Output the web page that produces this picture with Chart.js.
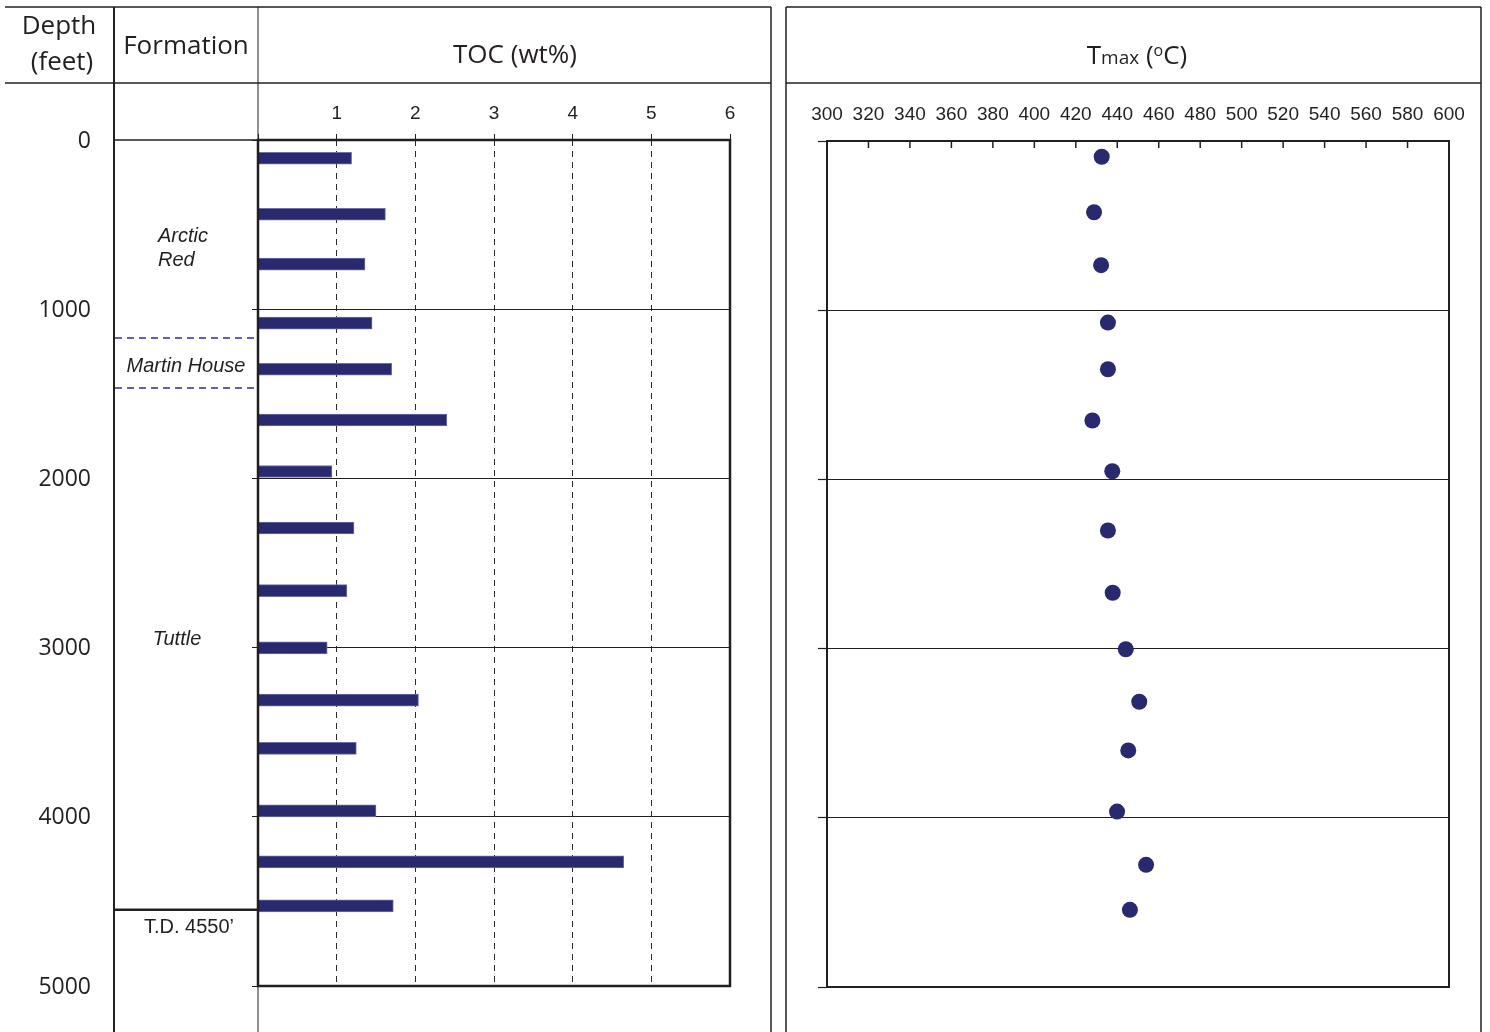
<!DOCTYPE html>
<html>
<head>
<meta charset="utf-8">
<title>TOC and Tmax versus depth</title>
<script src="https://cdn.jsdelivr.net/npm/chart.js@4.4.1/dist/chart.umd.min.js"></script>
<style>
  html, body { margin: 0; padding: 0; background: #ffffff; }
  #wrap { position: relative; width: 1490px; height: 1032px; overflow: hidden; background: #ffffff; }
  canvas { position: absolute; top: 0; }
  #tocCanvas { left: 0; }
  #tmaxCanvas { left: 780px; }
</style>
</head>
<body>
<div id="wrap">
  <canvas id="tocCanvas" width="780" height="1032"></canvas>
  <canvas id="tmaxCanvas" width="710" height="1032"></canvas>
</div>
<script>
// ---- well data -------------------------------------------------------
// TOC samples: depth (feet) and total organic carbon (wt%)
const tocDepth = [108, 439, 734, 1082, 1355, 1655, 1959, 2293, 2663, 3002, 3310, 3596, 3965, 4266, 4526];
const tocValue = [1.19, 1.62, 1.36, 1.45, 1.70, 2.40, 0.94, 1.22, 1.13, 0.88, 2.04, 1.25, 1.50, 4.65, 1.72];

// Rock-Eval Tmax samples: depth (feet) and Tmax (deg C)
const tmaxDepth = [93, 421, 734, 1073, 1349, 1652, 1952, 2302, 2670, 3004, 3314, 3602, 3963, 4278, 4544];
const tmaxValue = [432.5, 428.8, 432.2, 435.5, 435.5, 428.0, 437.6, 435.5, 437.8, 444.1, 450.6, 445.3, 439.9, 453.9, 446.1];

// axis ticks
const depthTicks = [0, 1000, 2000, 3000, 4000, 5000];
const tocTicks = [0, 1, 2, 3, 4, 5, 6];
const tmaxTicks = [300, 320, 340, 360, 380, 400, 420, 440, 460, 480, 500, 520, 540, 560, 580, 600];

// formations
const formationNames = ['Arctic\nRed', 'Martin House', 'Tuttle'];
const formationTops = [0, 1170, 1466];
const totalDepth = 4550;

// ---- drawing helpers -------------------------------------------------
const INK = '#231f20';
const NAVY = '#29296f';
const HEAD_FONT = "26px 'Open Sans', 'Noto Sans', sans-serif";
const LABEL_FONT = "'Liberation Sans', Arial, sans-serif";

Chart.defaults.font.family = LABEL_FONT;
Chart.defaults.color = INK;

function seg(ctx, x1, y1, x2, y2, width, color, dash) {
  ctx.save();
  ctx.beginPath();
  ctx.lineWidth = width;
  ctx.strokeStyle = color || INK;
  ctx.setLineDash(dash || []);
  ctx.moveTo(x1, y1);
  ctx.lineTo(x2, y2);
  ctx.stroke();
  ctx.restore();
}

function label(ctx, str, x, y, font, align) {
  ctx.save();
  ctx.font = font;
  ctx.fillStyle = INK;
  ctx.textAlign = align || 'center';
  ctx.textBaseline = 'middle';
  ctx.fillText(str, x, y);
  ctx.restore();
}

function fixedTicks(values) {
  return (scale) => { scale.ticks = values.map(v => ({ value: v })); };
}

// ---- left panel: depth, formation, TOC --------------------------------
const tocPanel = {
  id: 'tocPanel',
  beforeDraw(chart) {
    const ctx = chart.ctx;
    const ys = chart.scales.y;

    // table rules
    seg(ctx, 5, 7, 771, 7, 1.5);
    seg(ctx, 5, 83, 771, 83, 1.5);
    seg(ctx, 114, 7, 114, 1032, 2);
    seg(ctx, 258, 7, 258, 1032, 1);
    seg(ctx, 771, 7, 771, 1032, 1.5);

    // column headings
    label(ctx, 'Depth', 59, 27, HEAD_FONT);
    label(ctx, '(feet)', 62, 63, HEAD_FONT);
    label(ctx, 'Formation', 186, 47, HEAD_FONT);
    label(ctx, 'TOC (wt%)', 515, 56, HEAD_FONT);

    // depth labels, right-aligned in the depth column
    depthTicks.forEach(d => {
      label(ctx, String(d), 91, ys.getPixelForValue(d) + 1, "23px 'Open Sans', 'Noto Sans', sans-serif", 'right');
    });

    // surface line across the formation column
    const y0 = ys.getPixelForValue(formationTops[0]);
    seg(ctx, 114, y0, 258, y0, 1.5);

    // formation contacts
    for (let i = 1; i < formationTops.length; i++) {
      const y = ys.getPixelForValue(formationTops[i]);
      seg(ctx, 115, y, 257, y, 1.4, '#2d3190', [7, 5]);
    }
    // total depth
    const yTD = ys.getPixelForValue(totalDepth);
    seg(ctx, 114, yTD, 258, yTD, 2.5);

    // formation names
    const italic = "italic 20px " + LABEL_FONT;
    const arctic = formationNames[0].split('\n');
    label(ctx, arctic[0], 158, ys.getPixelForValue(568), italic, 'left');
    label(ctx, arctic[1], 158, ys.getPixelForValue(710), italic, 'left');
    label(ctx, formationNames[1], 186, ys.getPixelForValue((formationTops[1] + formationTops[2]) / 2) + 3, italic);
    label(ctx, formationNames[2], 177, ys.getPixelForValue(2950), italic);
    label(ctx, 'T.D. ' + totalDepth + '\u2019', 189, yTD + 18, "20px " + LABEL_FONT);
  },
  afterDatasetsDraw(chart) {
    const { left, top, right, bottom } = chart.chartArea;
    const ctx = chart.ctx;
    ctx.save();
    ctx.lineWidth = 2.5;
    ctx.strokeStyle = INK;
    ctx.strokeRect(left, top, right - left, bottom - top);
    ctx.restore();
  }
};

new Chart(document.getElementById('tocCanvas'), {
  type: 'bar',
  data: {
    datasets: [{
      label: 'TOC (wt%)',
      data: tocDepth.map((d, i) => ({ x: tocValue[i], y: d })),
      backgroundColor: NAVY,
      borderColor: '#6e70a6',
      borderWidth: 1,
      borderSkipped: 'left',
      barThickness: 12
    }]
  },
  options: {
    indexAxis: 'y',
    responsive: false,
    animation: false,
    devicePixelRatio: 1,
    events: [],
    layout: { padding: { left: 0, top: 0, right: 50, bottom: 46 } },
    plugins: { legend: { display: false }, tooltip: { enabled: false } },
    scales: {
      x: {
        type: 'linear',
        position: 'top',
        min: 0,
        max: 6,
        afterBuildTicks: fixedTicks(tocTicks),
        afterFit: (s) => { s.height = 140; },
        ticks: {
          padding: 9,
          font: { size: 19 },
          color: INK,
          callback: (v) => (v === 0 ? '' : String(v))
        },
        grid: {
          color: (c) => (c.tick && (c.tick.value === 0 || c.tick.value === 6) ? 'rgba(0,0,0,0)' : '#2b2b2b'),
          lineWidth: 1,
          tickColor: INK,
          tickLength: 6,
          tickWidth: 1,
          tickBorderDash: []
        },
        border: { display: false, dash: [6, 5] }
      },
      y: {
        type: 'linear',
        reverse: true,
        offset: false,
        min: 0,
        max: 5000,
        afterBuildTicks: fixedTicks(depthTicks),
        afterFit: (s) => { s.width = 258; },
        ticks: { display: false },
        grid: {
          offset: false,
          color: (c) => (c.tick && (c.tick.value === 0 || c.tick.value === 5000) ? 'rgba(0,0,0,0)' : INK),
          lineWidth: 1,
          tickColor: INK,
          tickLength: 6,
          tickWidth: 1
        },
        border: { display: false }
      }
    }
  },
  plugins: [tocPanel]
});

// ---- right panel: Tmax ------------------------------------------------
const tmaxPanel = {
  id: 'tmaxPanel',
  beforeDraw(chart) {
    const ctx = chart.ctx;
    // table rules
    seg(ctx, 6, 7, 701, 7, 1.5);
    seg(ctx, 6, 83, 701, 83, 1.5);
    seg(ctx, 6, 7, 6, 1032, 1.5);
    seg(ctx, 701, 7, 701, 1032, 1.5);

    // heading: T with smaller "max", then (oC) with raised o
    const parts = [
      { t: 'T', f: "26px 'Open Sans', sans-serif", dy: 0 },
      { t: 'max', f: "19px 'Open Sans', sans-serif", dy: 0 },
      { t: ' (', f: "26px 'Open Sans', sans-serif", dy: 0 },
      { t: 'o', f: "16px 'Open Sans', sans-serif", dy: -8 },
      { t: 'C)', f: "26px 'Open Sans', sans-serif", dy: 0 }
    ];
    ctx.save();
    let total = 0;
    parts.forEach(p => { ctx.font = p.f; p.w = ctx.measureText(p.t).width; total += p.w; });
    let x = 357 - total / 2;
    const base = 64;
    ctx.fillStyle = INK;
    ctx.textBaseline = 'alphabetic';
    ctx.textAlign = 'left';
    parts.forEach(p => { ctx.font = p.f; ctx.fillText(p.t, x, base + p.dy); x += p.w; });
    ctx.restore();
  },
  afterDatasetsDraw(chart) {
    const { left, top, right, bottom } = chart.chartArea;
    const ctx = chart.ctx;
    const xs = chart.scales.x;
    // inward tick marks along the top edge
    tmaxTicks.forEach(v => {
      const px = xs.getPixelForValue(v);
      seg(ctx, px, top, px, top + 7, 1.5);
    });
    ctx.save();
    ctx.lineWidth = 2;
    ctx.strokeStyle = INK;
    ctx.strokeRect(left, top, right - left, bottom - top);
    ctx.restore();
  }
};

new Chart(document.getElementById('tmaxCanvas'), {
  type: 'scatter',
  data: {
    datasets: [{
      label: 'Tmax (\u00B0C)',
      data: tmaxDepth.map((d, i) => ({ x: tmaxValue[i], y: d })),
      backgroundColor: NAVY,
      borderWidth: 0,
      pointRadius: 8,
      pointStyle: 'circle'
    }]
  },
  options: {
    responsive: false,
    animation: false,
    devicePixelRatio: 1,
    events: [],
    layout: { padding: { left: 0, top: 0, right: 41, bottom: 45 } },
    plugins: { legend: { display: false }, tooltip: { enabled: false } },
    scales: {
      x: {
        type: 'linear',
        position: 'top',
        min: 300,
        max: 600,
        afterBuildTicks: fixedTicks(tmaxTicks),
        afterFit: (s) => { s.height = 141; },
        ticks: {
          padding: 15,
          font: { size: 19 },
          color: INK,
          maxRotation: 0,
          autoSkip: false,
          callback: (v) => String(v)
        },
        grid: { display: false, drawTicks: false },
        border: { display: false }
      },
      y: {
        type: 'linear',
        reverse: true,
        min: 0,
        max: 5000,
        afterBuildTicks: fixedTicks(depthTicks),
        afterFit: (s) => { s.width = 47; },
        ticks: { display: false },
        grid: {
          color: (c) => (c.tick && (c.tick.value === 0 || c.tick.value === 5000) ? 'rgba(0,0,0,0)' : INK),
          lineWidth: 1,
          tickColor: INK,
          tickLength: 9,
          tickWidth: 1.2
        },
        border: { display: false }
      }
    }
  },
  plugins: [tmaxPanel]
});
</script>
</body>
</html>
